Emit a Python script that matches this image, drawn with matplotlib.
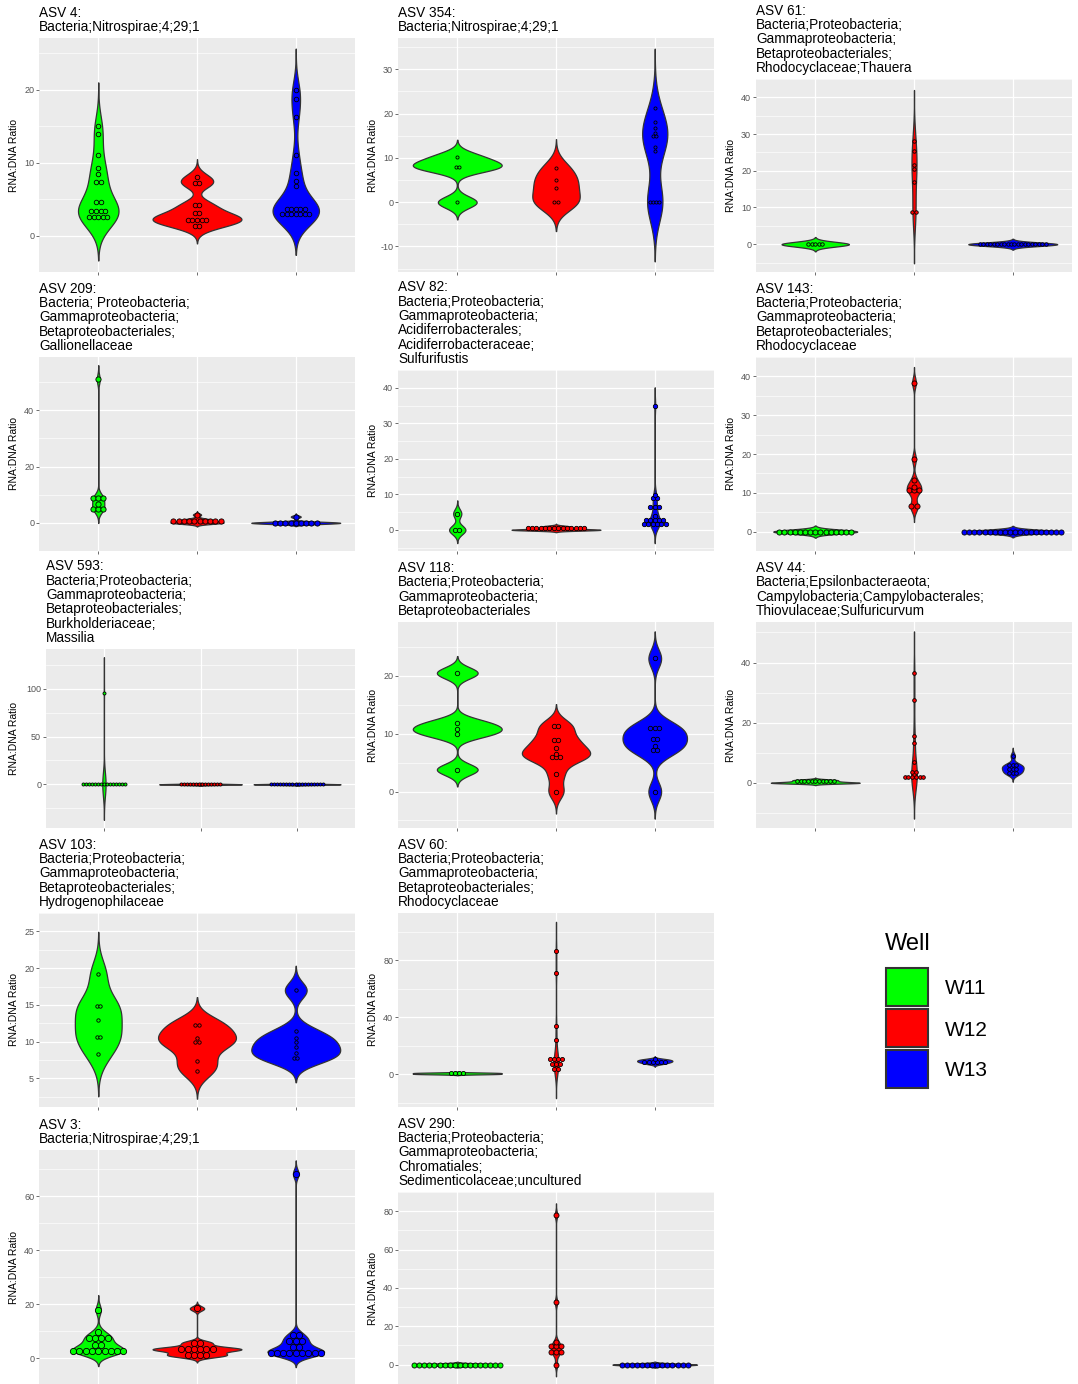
import numpy as np
import matplotlib
matplotlib.use("Agg")
import matplotlib.pyplot as plt
from matplotlib.patches import Rectangle

plt.rcParams['font.family'] = ['Liberation Sans', 'DejaVu Sans']

W, H = 1078, 1384

wells = ["W11", "W12", "W13"]
well_colors = ["#00FF00", "#FF0000", "#0000FF"]

# RNA:DNA ratios per well for each ASV
asv4_w11 = [2.6, 2.6, 2.6, 2.6, 2.6, 3.4, 3.4, 3.4, 3.4, 4.6, 4.6, 7.3, 7.3, 8.4, 9.2, 11.1, 13.9, 15.0]
asv4_w12 = [1.3, 1.3, 2.2, 2.2, 2.2, 2.2, 2.2, 3.1, 3.1, 4.2, 4.2, 7.2, 7.2, 8.1]
asv4_w13 = [3.0, 3.0, 3.0, 3.0, 3.0, 3.0, 3.0, 3.7, 3.7, 3.7, 3.7, 3.7, 6.8, 7.5, 8.6, 11.1, 16.3, 18.7, 20.0]

asv354_w11 = [10.2, 8.0, 8.0, 0.0]
asv354_w12 = [7.7, 5.1, 3.3, 0.0, 0.0]
asv354_w13 = [21.3, 18.2, 16.8, 15.6, 15.2, 14.7, 12.5, 11.5, 0.0, 0.0, 0.0, 0.0]

asv61_w11 = [0.0, 0.0, 0.0, 0.0, 0.0]
asv61_w12 = [8.7, 8.7, 16.9, 20.4, 21.7, 25.3, 28.1]
asv61_w13 = [0.0, 0.0, 0.0, 0.0, 0.0, 0.0, 0.0, 0.0, 0.0, 0.0,
             0.0, 0.0, 0.0, 0.0, 0.0, 0.0, 0.0, 0.0, 0.0, 0.0]

asv209_w11 = [5.0, 5.0, 5.0, 6.8, 8.8, 8.8, 8.8, 51.0]
asv209_w12 = [0.0, 0.0, 0.0, 0.0, 0.0, 0.3, 0.6, 0.9, 1.2, 1.4, 2.9]
asv209_w13 = [0.0, 0.0, 0.0, 0.0, 0.0, 0.0, 0.0, 0.0, 0.0, 2.2]

asv82_w11 = [0.0, 0.0, 4.6]
asv82_w12 = [0.0, 0.0, 0.0, 0.0, 0.0, 0.0, 0.0, 0.0, 0.2, 0.4, 0.6, 0.8, 1.0, 1.1]
asv82_w13 = [1.4, 1.6, 1.7, 1.7, 1.8, 2.0, 2.6, 2.7, 2.8, 2.9, 3.0, 3.8,
             6.5, 6.5, 6.5, 8.6, 9.6, 9.8, 35.0]

asv143_w11 = [0.0, 0.0, 0.0, 0.0, 0.0, 0.0, 0.0, 0.0, 0.0, 0.0, 0.0, 0.0, 0.0, 0.0, 0.0]
asv143_w12 = [6.5, 6.5, 10.2, 10.8, 11.4, 11.6, 13.3, 18.7, 38.4]
asv143_w13 = [0.0, 0.0, 0.0, 0.0, 0.0, 0.0, 0.0, 0.0, 0.0, 0.0,
              0.0, 0.0, 0.0, 0.0, 0.0, 0.0, 0.0, 0.0, 0.0, 0.0]

asv593_w11 = [0.0, 0.0, 0.0, 0.0, 0.0, 0.0, 0.0, 0.0, 0.0, 0.0, 0.0, 0.0, 0.0, 0.0, 0.0, 96.0]
asv593_w12 = [0.0, 0.0, 0.0, 0.0, 0.0, 0.0, 0.0, 0.0, 0.0, 0.0, 0.0, 0.0, 0.0, 0.0]
asv593_w13 = [0.0, 0.0, 0.0, 0.0, 0.0, 0.0, 0.0, 0.0, 0.0, 0.0, 0.0, 0.0, 0.0, 0.0, 0.0, 0.0, 0.0, 0.0]

asv118_w11 = [3.8, 9.9, 10.8, 11.9, 20.5]
asv118_w12 = [0.0, 3.0, 5.7, 6.0, 6.4, 6.55, 7.6, 8.9, 8.9, 11.3, 11.3]
asv118_w13 = [0.0, 7.1, 7.1, 7.95, 9.1, 9.1, 11.0, 11.0, 11.0, 23.0]

asv44_w11 = [0.0, 0.0, 0.0, 0.0, 0.0, 0.2, 0.4, 0.6, 0.8, 1.0, 1.1]
asv44_w12 = [1.9, 1.9, 1.9, 1.9, 1.9, 1.9, 3.5, 3.5, 6.8, 13.3, 15.7, 27.6, 36.6]
asv44_w13 = [3.1, 3.3, 3.5, 4.4, 4.7, 5.0, 5.7, 5.9, 6.1, 9.0]

asv103_w11 = [8.3, 10.7, 10.7, 13.0, 14.9, 14.9, 19.2]
asv103_w12 = [6.0, 7.4, 9.9, 9.9, 10.5, 12.3, 12.3]
asv103_w13 = [7.8, 7.8, 8.4, 9.3, 10.0, 10.5, 11.5, 17.0]

asv60_w11 = [0.0, 0.3, 0.7, 1.0]
asv60_w12 = [3.5, 3.5, 6.8, 6.8, 6.8, 10.6, 10.6, 10.6, 10.6, 23.7, 33.6, 71.2, 86.6]
asv60_w13 = [7.2, 8.0, 8.6, 9.0, 9.6, 10.0, 10.6]

asv3_w11 = [2.5, 2.6, 2.6, 2.7, 2.7, 2.7, 2.8, 2.8, 2.9, 4.95, 5.05,
            7.25, 7.5, 7.5, 7.75, 9.7, 17.9]
asv3_w12 = [0.9, 1.0, 1.2, 1.3, 3.2, 3.3, 3.3, 3.3, 3.3, 3.4, 5.6, 5.6, 18.4]
asv3_w13 = [1.6, 1.8, 1.9, 2.0, 2.0, 2.0, 2.1, 2.2, 2.4, 3.9, 4.1,
            6.2, 6.35, 6.5, 8.5, 8.7, 68.4]

asv290_w11 = [0.0, 0.0, 0.0, 0.0, 0.0, 0.0, 0.0, 0.0, 0.0,
              0.0, 0.0, 0.0, 0.0, 0.0, 0.0, 0.0, 0.0, 0.0]
asv290_w12 = [0.0, 6.0, 6.4, 6.8, 8.8, 9.6, 10.4, 11.6, 32.6, 78.0]
asv290_w13 = [0.0, 0.0, 0.0, 0.0, 0.0, 0.0, 0.0, 0.0, 0.0, 0.0, 0.0, 0.0, 0.0, 0.0]

titles = [
    "ASV 4:\nBacteria;Nitrospirae;4;29;1",
    "ASV 354:\nBacteria;Nitrospirae;4;29;1",
    "ASV 61:\nBacteria;Proteobacteria;\nGammaproteobacteria;\nBetaproteobacteriales;\nRhodocyclaceae;Thauera",
    "ASV 209:\nBacteria; Proteobacteria;\nGammaproteobacteria;\nBetaproteobacteriales;\nGallionellaceae",
    "ASV 82:\nBacteria;Proteobacteria;\nGammaproteobacteria;\nAcidiferrobacterales;\nAcidiferrobacteraceae;\nSulfurifustis",
    "ASV 143:\nBacteria;Proteobacteria;\nGammaproteobacteria;\nBetaproteobacteriales;\nRhodocyclaceae",
    "ASV 593:\nBacteria;Proteobacteria;\nGammaproteobacteria;\nBetaproteobacteriales;\nBurkholderiaceae;\nMassilia",
    "ASV 118:\nBacteria;Proteobacteria;\nGammaproteobacteria;\nBetaproteobacteriales",
    "ASV 44:\nBacteria;Epsilonbacteraeota;\nCampylobacteria;Campylobacterales;\nThiovulaceae;Sulfuricurvum",
    "ASV 103:\nBacteria;Proteobacteria;\nGammaproteobacteria;\nBetaproteobacteriales;\nHydrogenophilaceae",
    "ASV 60:\nBacteria;Proteobacteria;\nGammaproteobacteria;\nBetaproteobacteriales;\nRhodocyclaceae",
    "ASV 3:\nBacteria;Nitrospirae;4;29;1",
    "ASV 290:\nBacteria;Proteobacteria;\nGammaproteobacteria;\nChromatiales;\nSedimenticolaceae;uncultured",
]

series = [
    [asv4_w11, asv4_w12, asv4_w13],
    [asv354_w11, asv354_w12, asv354_w13],
    [asv61_w11, asv61_w12, asv61_w13],
    [asv209_w11, asv209_w12, asv209_w13],
    [asv82_w11, asv82_w12, asv82_w13],
    [asv143_w11, asv143_w12, asv143_w13],
    [asv593_w11, asv593_w12, asv593_w13],
    [asv118_w11, asv118_w12, asv118_w13],
    [asv44_w11, asv44_w12, asv44_w13],
    [asv103_w11, asv103_w12, asv103_w13],
    [asv60_w11, asv60_w12, asv60_w13],
    [asv3_w11, asv3_w12, asv3_w13],
    [asv290_w11, asv290_w12, asv290_w13],
]

yticks = [
    [0, 10, 20],
    [-10, 0, 10, 20, 30],
    [0, 10, 20, 30, 40],
    [0, 20, 40],
    [0, 10, 20, 30, 40],
    [0, 10, 20, 30, 40],
    [0, 50, 100],
    [0, 10, 20],
    [0, 20, 40],
    [5, 10, 15, 20, 25],
    [0, 40, 80],
    [0, 20, 40, 60],
    [0, 20, 40, 60, 80],
]

# panel boxes in pixels: left, top, right, bottom, and x of the y-axis title
boxes = [
    (39, 38, 355, 272, 14), (398, 38, 714, 272, 373), (756, 79, 1072, 272, 731),
    (39, 357, 355, 551, 14), (398, 370, 714, 551, 373), (756, 357, 1072, 551, 731),
    (46, 649, 355, 828, 14), (398, 622, 714, 828, 373), (756, 622, 1072, 828, 731),
    (39, 913, 355, 1107, 14), (398, 913, 714, 1107, 373),
    (39, 1150, 355, 1385, 14), (398, 1192, 714, 1385, 373),
]


def bw_nrd0(x):
    hi = np.std(x, ddof=1)
    q75, q25 = np.percentile(x, [75, 25])
    lo = min(hi, (q75 - q25) / 1.34)
    if not lo:
        lo = hi or abs(x[0]) or 1.0
    return 0.9 * lo * len(x) ** -0.2


def dot_bins(x, binwidth):
    x = np.sort(x)
    centers, counts = [], []
    binend = -np.inf
    members = []
    for v in x:
        if v >= binend:
            if members:
                centers.append((min(members) + max(members)) / 2)
                counts.append(len(members))
            members = []
            binend = v + binwidth
        members.append(v)
    centers.append((min(members) + max(members)) / 2)
    counts.append(len(members))
    return centers, counts


fig = plt.figure(figsize=(W / 100, H / 100), dpi=100)

for title, groups, ticks, box in zip(titles, series, yticks, boxes):
    l, t, r, b, ylab_x = box
    ax = fig.add_axes([l / W, 1 - b / H, (r - l) / W, (b - t) / H])
    ax.set_facecolor("#EBEBEB")
    for s in ax.spines.values():
        s.set_visible(False)

    data = [np.asarray(g, float) for g in groups]
    dens = []
    for g in data:
        bw = bw_nrd0(g)
        yy = np.linspace(g.min() - 3 * bw, g.max() + 3 * bw, 512)
        dd = np.exp(-0.5 * ((yy[:, None] - g[None, :]) / bw) ** 2).sum(1) / (len(g) * bw * np.sqrt(2 * np.pi))
        dens.append((yy, dd))
    dmax = max(d.max() for _, d in dens)
    lo = min(y.min() for y, _ in dens)
    hi = max(y.max() for y, _ in dens)
    pad = 0.05 * (hi - lo)
    ax.set_xlim(0.4, 3.6)
    ax.set_ylim(lo - pad, hi + pad)

    for i, ((yy, dd), col) in enumerate(zip(dens, well_colors)):
        hw = 0.45 * dd / dmax
        ax.fill_betweenx(yy, i + 1 - hw, i + 1 + hw, facecolor=col,
                         edgecolor="#333333", linewidth=0.9, zorder=2)

    # centred dot stacks, dot size tied to the y scale
    allv = np.concatenate(data)
    binwidth = (allv.max() - allv.min()) / 30
    dot_px = binwidth / (hi - lo + 2 * pad) * (b - t)
    dx = dot_px / ((r - l) / 3.2)
    for i, (g, col) in enumerate(zip(data, well_colors)):
        centers, counts = dot_bins(g, binwidth)
        xs, ys = [], []
        for c, n in zip(centers, counts):
            for k in range(n):
                xs.append(i + 1 + (k - (n - 1) / 2) * dx)
                ys.append(c)
        ax.scatter(xs, ys, s=(dot_px * 0.72) ** 2, facecolor=col,
                   edgecolor="black", linewidth=0.6, zorder=3)

    ax.set_xticks([1, 2, 3])
    ax.set_xticklabels([])
    ax.set_yticks(ticks)
    ax.set_yticklabels([str(v) for v in ticks])
    step = ticks[1] - ticks[0]
    minors = [ticks[0] - step / 2] + [v + step / 2 for v in ticks]
    ax.set_yticks(minors, minor=True)
    ax.grid(True, which="major", color="white", linewidth=0.9)
    ax.grid(True, which="minor", axis="y", color="white", linewidth=0.45)
    ax.set_axisbelow(True)
    ax.tick_params(axis="both", which="major", length=2, width=0.5, color="#333333",
                   labelsize=6.5, labelcolor="#555555", pad=1.5)
    ax.tick_params(axis="y", which="minor", length=0)

    fig.text(l / W, 1 - (t - 4) / H, title, ha="left", va="bottom",
             fontsize=9.8, linespacing=1.03, color="black")
    fig.text(ylab_x / W, 1 - (t + b) / 2 / H, "RNA:DNA Ratio", rotation=90,
             ha="center", va="center", fontsize=7.5, color="black")

# legend
fig.text(885 / W, 1 - 944 / H, "Well", ha="left", va="center", fontsize=17)
for i, (name, col) in enumerate(zip(wells, well_colors)):
    top = 968 + i * 41
    fig.add_artist(Rectangle((886 / W, 1 - (top + 38) / H), 42 / W, 38 / H,
                             transform=fig.transFigure, facecolor=col,
                             edgecolor="#333333", linewidth=1.5))
    fig.text(945 / W, 1 - (top + 21) / H, name, ha="left", va="center", fontsize=15)

fig.savefig("out.png", dpi=100)
